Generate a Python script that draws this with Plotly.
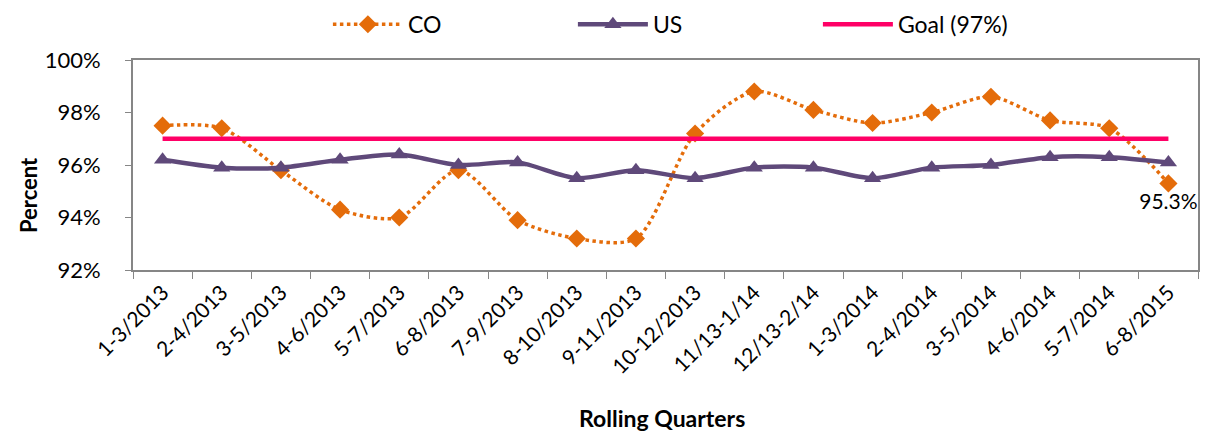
import plotly.graph_objects as go

categories = ["1-3/2013", "2-4/2013", "3-5/2013", "4-6/2013", "5-7/2013", "6-8/2013",
              "7-9/2013", "8-10/2013", "9-11/2013", "10-12/2013", "11/13-1/14", "12/13-2/14",
              "1-3/2014", "2-4/2014", "3-5/2014", "4-6/2014", "5-7/2014", "6-8/2015"]
co_values = [97.5, 97.4, 95.8, 94.3, 94.0, 95.8, 93.9, 93.2, 93.2, 97.2, 98.8, 98.1,
             97.6, 98.0, 98.6, 97.7, 97.4, 95.3]
us_values = [96.2, 95.9, 95.9, 96.2, 96.4, 96.0, 96.1, 95.5, 95.8, 95.5, 95.9, 95.9,
             95.5, 95.9, 96.0, 96.3, 96.3, 96.1]
goal_value = 97
y_ticks = [92, 94, 96, 98, 100]

FONT = "Lato, Carlito, 'Open Sans', sans-serif"
co_text = [""] * (len(co_values) - 1) + [f"{co_values[-1]:.1f}%"]

fig = go.Figure()
fig.add_trace(go.Scatter(
    x=categories, y=co_values, name="CO", mode="lines+markers+text",
    line=dict(color="#E46C0A", width=3.5, dash="dot", shape="spline", smoothing=0.8),
    marker=dict(symbol="diamond", size=14, color="#E46C0A"),
    text=co_text, textposition="bottom center",
    textfont=dict(family=FONT, size=21, color="#000000"),
))
fig.add_trace(go.Scatter(
    x=categories, y=us_values, name="US", mode="lines+markers",
    line=dict(color="#5F497A", width=4.5, shape="spline", smoothing=0.8),
    marker=dict(symbol="triangle-up", size=15, color="#5F497A"),
))
fig.add_trace(go.Scatter(
    x=categories, y=[goal_value] * len(categories), name="Goal (97%)", mode="lines",
    line=dict(color="#FF0066", width=4.5),
))

fig.update_layout(
    width=1209, height=436,
    margin=dict(l=125, r=19, t=52, b=174, autoexpand=False),
    paper_bgcolor="white", plot_bgcolor="white",
    font=dict(family=FONT, size=18, color="#000000"),
    showlegend=True,
    legend=dict(orientation="h", x=0.183, xanchor="left", y=1.17, yanchor="middle",
                yref="paper",
                font=dict(family=FONT, size=23), itemwidth=70,
                traceorder="normal", entrywidth=160),
    annotations=[
        dict(text="<b>Percent</b>", x=-0.0986, y=0.357, xref="paper", yref="paper",
             xanchor="center", yanchor="middle",
             showarrow=False, textangle=-90, font=dict(family=FONT, size=22)),
        dict(text="<b>Rolling Quarters</b>", x=0.497, y=-0.705, xref="paper", yref="paper",
             xanchor="center", yanchor="middle",
             showarrow=False, font=dict(family=FONT, size=23)),
    ],
)
fig.update_xaxes(
    type="category", range=[-0.5, len(categories) - 0.5],
    showline=True, linecolor="#868686", linewidth=2, mirror=True,
    ticks="outside", tickson="boundaries", ticklen=7, tickcolor="#868686",
    tickangle=-45, tickfont=dict(family=FONT, size=21),
    showgrid=False,
)
fig.update_yaxes(
    range=[92, 100], tickvals=y_ticks, ticktext=[f"{v}%" for v in y_ticks],
    showline=True, linecolor="#868686", linewidth=2, mirror=True,
    ticks="outside", ticklen=6, tickcolor="#868686", ticklabelstandoff=20,
    tickfont=dict(family=FONT, size=22), showgrid=False, zeroline=False,
)
fig.write_html("out.html")
